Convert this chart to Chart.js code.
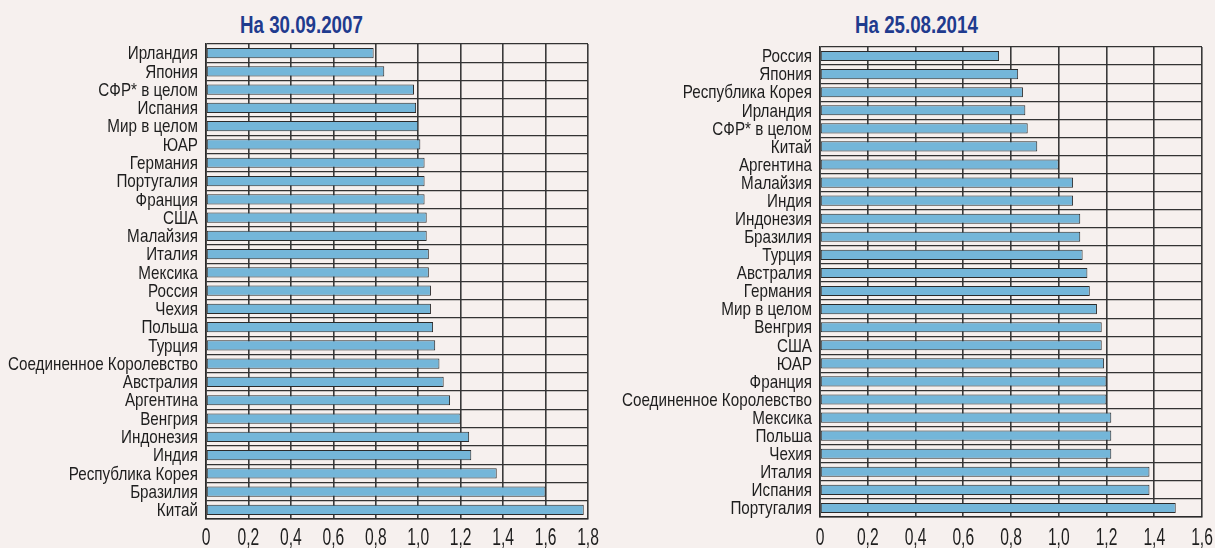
<!DOCTYPE html>
<html>
<head>
<meta charset="utf-8">
<script src="https://cdn.jsdelivr.net/npm/chart.js@4.4.1/dist/chart.umd.min.js"></script>
<style>
  html, body { margin: 0; padding: 0; background: #f6f0ee; }
  body { width: 1215px; height: 548px; position: relative; overflow: hidden; }
  .wrap { position: absolute; top: 0; height: 548px; }
  .title { position: absolute; top: 13px; font-family: 'Liberation Sans', Arial, sans-serif; line-height: 24px;
           font-weight: bold; font-size: 24px; color: #1f3b8e; white-space: nowrap;
           transform: scaleX(0.78); transform-origin: 0 0; }
</style>
</head>
<body>
<div class="title" id="t1" style="left:240px;">На 30.09.2007</div>
<div class="title" id="t2" style="left:855px;">На 25.08.2014</div>
<div class="wrap" style="left:0; width:600px;"><canvas id="c1" width="600" height="548"></canvas></div>
<div class="wrap" style="left:600px; width:615px;"><canvas id="c2" width="615" height="548"></canvas></div>
<script>
const categories2007 = ['Ирландия','Япония','СФР* в целом','Испания','Мир в целом','ЮАР','Германия','Португалия','Франция','США','Малайзия','Италия','Мексика','Россия','Чехия','Польша','Турция','Соединенное Королевство','Австралия','Аргентина','Венгрия','Индонезия','Индия','Республика Корея','Бразилия','Китай'];
const values2007 = [0.79,0.84,0.98,0.99,1.00,1.01,1.03,1.03,1.03,1.04,1.04,1.05,1.05,1.06,1.06,1.07,1.08,1.10,1.12,1.15,1.20,1.24,1.25,1.37,1.60,1.78];
const ticks2007 = ['0','0,2','0,4','0,6','0,8','1,0','1,2','1,4','1,6','1,8'];

const categories2014 = ['Россия','Япония','Республика Корея','Ирландия','СФР* в целом','Китай','Аргентина','Малайзия','Индия','Индонезия','Бразилия','Турция','Австралия','Германия','Мир в целом','Венгрия','США','ЮАР','Франция','Соединенное Королевство','Мексика','Польша','Чехия','Италия','Испания','Португалия'];
const values2014 = [0.75,0.83,0.85,0.86,0.87,0.91,1.00,1.06,1.06,1.09,1.09,1.10,1.12,1.13,1.16,1.18,1.18,1.19,1.20,1.20,1.22,1.22,1.22,1.38,1.38,1.49];
const ticks2014 = ['0','0,2','0,4','0,6','0,8','1,0','1,2','1,4','1,6'];

const FONT = "'Liberation Sans', Arial, sans-serif";

// Draws the axes' own tick labels horizontally condensed (narrow typeface look).
const condensedLabels = {
  id: 'condensedLabels',
  afterDraw(chart, args, opts) {
    const ctx = chart.ctx;
    const ys = chart.scales.y, xs = chart.scales.x;
    ctx.save();
    ctx.fillStyle = '#1e1e1e';
    // category labels
    ctx.font = '19px ' + FONT;
    ctx.textAlign = 'right';
    ctx.textBaseline = 'middle';
    let maxW = 0;
    chart.data.labels.forEach(l => { maxW = Math.max(maxW, ctx.measureText(l).width); });
    const sy = opts.labelWidth / maxW;
    ys.ticks.forEach((t, i) => {
      const label = chart.data.labels[t.value];
      const py = ys.getPixelForTick(i);
      ctx.save();
      ctx.translate(ys.right - 8, py + 1);
      ctx.scale(sy, 1);
      ctx.fillText(label, 0, 0);
      ctx.restore();
    });
    // value tick labels
    ctx.font = '23px ' + FONT;
    ctx.textAlign = 'center';
    xs.ticks.forEach((t, i) => {
      const px = xs.getPixelForTick(i);
      ctx.save();
      ctx.translate(px, xs.bottom - 9);
      ctx.scale(0.68, 1);
      ctx.fillText(opts.tickLabels[i], 0, 0);
      ctx.restore();
    });
    ctx.restore();
  }
};

function makeChart(id, cats, vals, tickLabels, g) {
  const max = (tickLabels.length - 1) * 0.2;
  return new Chart(document.getElementById(id), {
    type: 'bar',
    data: {
      labels: cats,
      datasets: [{
        data: vals,
        backgroundColor: '#74b6d9',
        borderColor: '#2b2b2b',
        borderWidth: 1,
        borderSkipped: false,
        barPercentage: 0.56,
        categoryPercentage: 1
      }]
    },
    plugins: [condensedLabels],
    options: {
      indexAxis: 'y',
      responsive: false,
      animation: false,
      devicePixelRatio: 1,
      layout: { padding: { top: g.top, right: g.right, bottom: 0, left: 0 } },
      plugins: {
        legend: { display: false }, tooltip: { enabled: false }, title: { display: false },
        condensedLabels: { labelWidth: 190, tickLabels: tickLabels }
      },
      scales: {
        x: {
          min: 0, max: max,
          afterBuildTicks: (s) => { s.ticks = tickLabels.map((t, i) => ({ value: Math.round(i * 2) / 10 })); },
          afterFit: (s) => { s.height = g.xh; },
          grid: { color: '#3a3a3a', lineWidth: 1.6, drawTicks: false },
          border: { color: '#2b2b2b', width: 1.6 },
          ticks: { display: false }
        },
        y: {
          afterFit: (s) => { s.width = g.yw; },
          grid: { offset: true, color: '#333', lineWidth: 1.3, drawTicks: false },
          border: { color: '#2b2b2b', width: 1.6 },
          ticks: { display: false, autoSkip: false }
        }
      }
    }
  });
}

makeChart('c1', categories2007, values2007, ticks2007, { top: 44, right: 12, xh: 29, yw: 206 });
makeChart('c2', categories2014, values2014, ticks2014, { top: 47, right: 13, xh: 31, yw: 220 });
</script>
</body>
</html>
